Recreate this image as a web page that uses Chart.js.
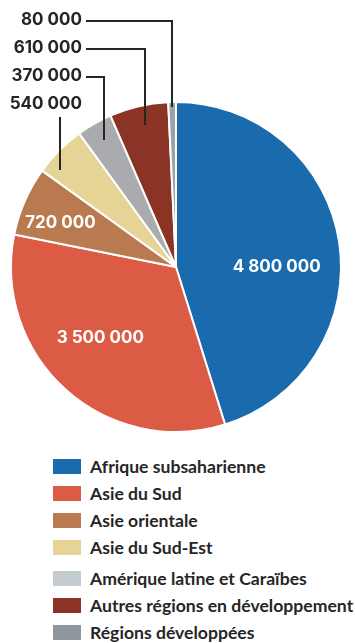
<!DOCTYPE html>
<html lang="fr">
<head>
<meta charset="utf-8">
<script src="https://cdn.jsdelivr.net/npm/chart.js@4"></script>
<style>
  html, body { margin: 0; padding: 0; background: #fff; }
  #wrap { position: relative; width: 355px; height: 643px; overflow: hidden; }
  #pieChart { position: absolute; left: 0; top: 0; }
  #legend { position: absolute; left: 53px; top: 453px; margin: 0; padding: 0; list-style: none;
    font-family: Lato, "Noto Sans", sans-serif; font-weight: 700; font-size: 17.6px; color: #262626; }
  #legend li { height: 27px; display: flex; align-items: center; white-space: nowrap; }
  #legend li.gap { margin-top: 4px; }
  #legend .sw { width: 28px; height: 15px; margin-right: 9px; flex: none; }
</style>
</head>
<body>
<div id="wrap">
  <canvas id="pieChart" width="355" height="440"></canvas>
  <ul id="legend"></ul>
</div>
<script>
var regions = ['Afrique subsaharienne', 'Asie du Sud', 'Asie orientale', 'Asie du Sud-Est',
  'Amérique latine et Caraïbes', 'Autres régions en développement', 'Régions développées'];
var people = [4800000, 3500000, 720000, 540000, 370000, 610000, 80000];

var sliceColors = ['#1a6aae', '#dc5b45', '#b97a50', '#e6d496', '#aaabae', '#8b3325', '#9ba2a8'];
var swatchColors = ['#1a6aae', '#dc5b45', '#b97a50', '#e6d496', '#c5ccd0', '#8b3325', '#8e979e'];

// values written inside their slice: [index, position along slice, radius fraction]
var insideLabels = [[0, 0.553, 0.61], [1, 0.54, 0.63], [2, 0.39, 0.75]];
// values pulled out to the top left: [index, text y, position along slice, radius fraction]
var outsideLabels = [[6, 20, 0.47, 0.97], [5, 48, 0.54, 0.88], [4, 76, 0.51, 0.885], [3, 104, 0.23, 0.915]];

var fmt = function(v){
  return String(v).replace(/\B(?=(\d{3})+(?!\d))/g, ' ');
};

var pointOnArc = function(arc, frac, rf){
  var p = arc.getProps(['x', 'y', 'startAngle', 'endAngle', 'outerRadius'], true);
  var a = p.startAngle + (p.endAngle - p.startAngle) * frac;
  return { x: p.x + Math.cos(a) * p.outerRadius * rf, y: p.y + Math.sin(a) * p.outerRadius * rf };
};

var valueLabels = {
  id: 'valueLabels',
  afterDatasetsDraw: function(chart){
    var ctx = chart.ctx;
    var arcs = chart.getDatasetMeta(0).data;
    var values = chart.data.datasets[0].data;
    ctx.save();
    ctx.font = '700 17px Inter, "Open Sans", sans-serif';
    ctx.textBaseline = 'middle';

    ctx.fillStyle = '#fff';
    ctx.textAlign = 'center';
    insideLabels.forEach(function(l){
      var pt = pointOnArc(arcs[l[0]], l[1], l[2]);
      ctx.fillText(fmt(values[l[0]]), pt.x, pt.y);
    });

    ctx.fillStyle = '#262626';
    ctx.strokeStyle = '#262626';
    ctx.lineWidth = 2;
    ctx.textAlign = 'right';
    outsideLabels.forEach(function(l, i){
      var ty = l[1];
      ctx.fillText(fmt(values[l[0]]), 82, ty);
      var end = pointOnArc(arcs[l[0]], l[2], l[3]);
      var x = Math.round(end.x);
      ctx.beginPath();
      if (i < outsideLabels.length - 1){
        ctx.moveTo(86, ty + 1);
        ctx.lineTo(x, ty + 1);
      } else {
        ctx.moveTo(x, ty + 13);
      }
      ctx.lineTo(x, end.y);
      ctx.stroke();
    });
    ctx.restore();
  }
};

new Chart(document.getElementById('pieChart').getContext('2d'), {
  type: 'pie',
  data: {
    labels: regions,
    datasets: [{
      data: people,
      backgroundColor: sliceColors,
      borderColor: '#fff',
      borderWidth: 2
    }]
  },
  options: {
    responsive: false,
    animation: false,
    layout: { padding: { left: 10, right: 13, top: 101, bottom: 7 } },
    plugins: { legend: { display: false }, tooltip: { enabled: false } }
  },
  plugins: [valueLabels]
});

var legend = document.getElementById('legend');
regions.forEach(function(name, i){
  var li = document.createElement('li');
  if (i == 4) li.className = 'gap';
  var sw = document.createElement('span');
  sw.className = 'sw';
  sw.style.background = swatchColors[i];
  li.appendChild(sw);
  li.appendChild(document.createTextNode(name));
  legend.appendChild(li);
});
</script>
</body>
</html>
